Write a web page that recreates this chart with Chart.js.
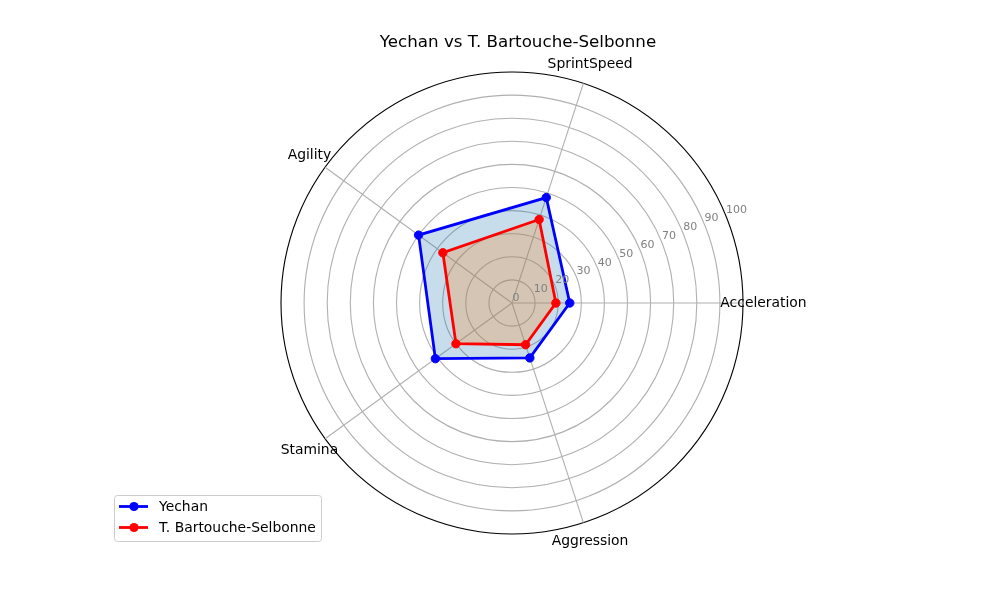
<!DOCTYPE html>
<html>
<head>
<meta charset="utf-8">
<script src="https://cdn.jsdelivr.net/npm/chart.js"></script>
<style>
  body { margin: 0; background: #fff; }
  #wrap { width: 1000px; height: 600px; }
</style>
</head>
<body>
<div id="wrap"><canvas id="radar" width="1000" height="600"></canvas></div>
<script>
const categories = ['Acceleration', 'SprintSpeed', 'Agility', 'Stamina', 'Aggression'];
const yechan = [25, 48, 50, 41, 25];
const bartouche = [19, 38, 37, 30, 19];
const rTicks = [0, 10, 20, 30, 40, 50, 60, 70, 80, 90, 100];
const titleText = 'Yechan vs T. Bartouche-Selbonne';

// matplotlib goes counter-clockwise from east, chart.js clockwise
const order = [0, 4, 3, 2, 1];
const pick = arr => order.map(i => arr[i]);

const FONT = '"DejaVu Sans", sans-serif';

const extrasPlugin = {
  id: 'extras',
  afterDatasetsDraw(chart) {
    const ctx = chart.ctx;
    const r = chart.scales.r;
    ctx.save();

    // radial tick labels at 22.5 deg
    const a = 22.5 * Math.PI / 180;
    ctx.font = '11px ' + FONT;
    ctx.fillStyle = '#808080';
    ctx.textAlign = 'left';
    ctx.textBaseline = 'alphabetic';
    rTicks.forEach(v => {
      const d = r.getDistanceFromCenterForValue(v);
      ctx.fillText(String(v), r.xCenter + Math.cos(a) * d + 0.5, r.yCenter - Math.sin(a) * d - 2);
    });

    // category labels
    ctx.font = '13.9px ' + FONT;
    ctx.fillStyle = '#000';
    ctx.textAlign = 'center';
    ctx.textBaseline = 'middle';
    r._pointLabels.forEach((lbl, i) => {
      const p = r.getPointPosition(i, r.drawingArea + 20);
      ctx.fillText(lbl, p.x + 0.5, p.y);
    });

    // title
    ctx.font = '16.7px ' + FONT;
    ctx.fillText(titleText, 518, 43);
    ctx.restore();
  },
  afterDraw(chart) {
    const ctx = chart.ctx;
    ctx.save();
    const bx = 114.5, by = 495.5, bw = 207, bh = 46, rad = 3;
    ctx.beginPath();
    ctx.moveTo(bx + rad, by);
    ctx.arcTo(bx + bw, by, bx + bw, by + bh, rad);
    ctx.arcTo(bx + bw, by + bh, bx, by + bh, rad);
    ctx.arcTo(bx, by + bh, bx, by, rad);
    ctx.arcTo(bx, by, bx + bw, by, rad);
    ctx.closePath();
    ctx.fillStyle = 'rgba(255,255,255,0.8)';
    ctx.fill();
    ctx.strokeStyle = '#cccccc';
    ctx.lineWidth = 1;
    ctx.stroke();

    ctx.font = '13.9px ' + FONT;
    ctx.textAlign = 'left';
    ctx.textBaseline = 'middle';
    chart.data.datasets.forEach((ds, i) => {
      const y = 506.5 + i * 21;
      ctx.strokeStyle = ds.borderColor;
      ctx.lineWidth = 2.8;
      ctx.beginPath();
      ctx.moveTo(119, y);
      ctx.lineTo(148, y);
      ctx.stroke();
      ctx.fillStyle = ds.borderColor;
      ctx.beginPath();
      ctx.arc(134, y, 4.6, 0, Math.PI * 2);
      ctx.fill();
      ctx.fillStyle = '#000';
      ctx.fillText(ds.label, 159, y + 0.5);
    });
    ctx.restore();
  }
};

new Chart(document.getElementById('radar'), {
  type: 'radar',
  data: {
    labels: pick(categories),
    datasets: [
      {
        label: 'Yechan',
        data: pick(yechan),
        borderColor: '#0000ff',
        backgroundColor: 'rgba(31,119,180,0.25)',
        pointBackgroundColor: '#0000ff',
        pointBorderColor: '#0000ff',
        borderWidth: 2.8,
        pointRadius: 4.2,
        pointBorderWidth: 1,
        fill: true,
        order: 1
      },
      {
        label: 'T. Bartouche-Selbonne',
        data: pick(bartouche),
        borderColor: '#ff0000',
        backgroundColor: 'rgba(255,127,14,0.25)',
        pointBackgroundColor: '#ff0000',
        pointBorderColor: '#ff0000',
        borderWidth: 2.8,
        pointRadius: 4.2,
        pointBorderWidth: 1,
        fill: true,
        order: 0
      }
    ]
  },
  options: {
    responsive: false,
    animation: false,
    events: [],
    layout: { padding: { left: 124, right: 100, top: 72, bottom: 66 } },
    plugins: {
      legend: { display: false },
      title: { display: false },
      tooltip: { enabled: false }
    },
    scales: {
      r: {
        min: 0,
        max: 100,
        startAngle: 90,
        ticks: { display: false, stepSize: 10 },
        pointLabels: { display: false },
        angleLines: { color: '#b0b0b0', lineWidth: 1.1 },
        grid: {
          circular: true,
          color: c => (c.tick && c.tick.value === 100 ? '#000000' : '#b0b0b0'),
          lineWidth: 1.1
        }
      }
    }
  },
  plugins: [extrasPlugin]
});
</script>
</body>
</html>
